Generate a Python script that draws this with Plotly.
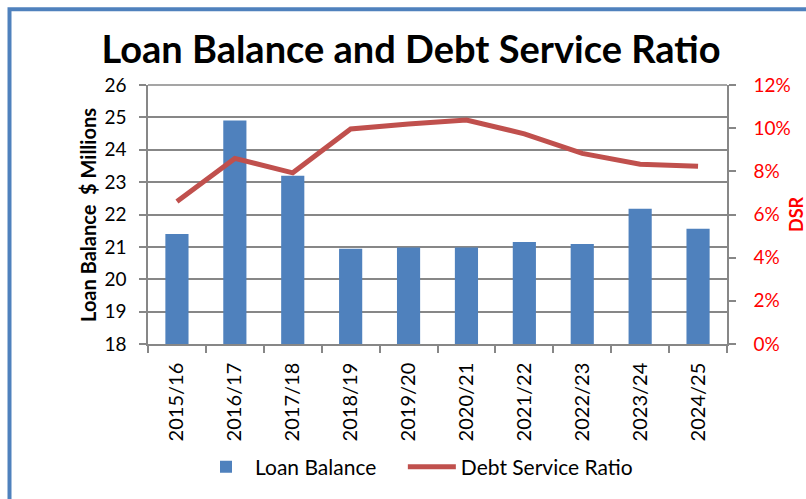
import plotly.graph_objects as go

categories = ["2015/16", "2016/17", "2017/18", "2018/19", "2019/20",
              "2020/21", "2021/22", "2022/23", "2023/24", "2024/25"]
loan_balance = [21.4, 24.9, 23.2, 20.94, 20.98, 20.98, 21.15, 21.09, 22.18, 21.56]
dsr = [0.066, 0.086, 0.0793, 0.0996, 0.1019, 0.1038, 0.0974, 0.0883, 0.0833, 0.0823]

W, H = 806, 499
L, R, T, B = 148, 727, 85, 350
font = "Lato"
grid = "#878787"
NB = "\u00a0"

fig = go.Figure()
fig.add_trace(go.Bar(x=categories, y=loan_balance, name="Loan Balance" + NB * 4,
                     marker=dict(color="#4F81BD", line=dict(width=0)), yaxis="y"))
fig.add_trace(go.Scatter(x=categories, y=dsr, name="Debt Service Ratio", mode="lines",
                         line=dict(color="#C0504D", width=5), yaxis="y2"))

def px_x(p):
    return (p - L) / (R - L)

def px_y(p):
    return (B - p) / (B - T)

fig.update_layout(
    width=W, height=H,
    margin=dict(l=L, r=W - R, t=T, b=H - B),
    paper_bgcolor="white", plot_bgcolor="white",
    font=dict(family=font, color="black", size=18),
    bargap=0.6,
    showlegend=True,
    title=dict(text="<b>Loan Balance and Debt Service Ratio</b>",
               font=dict(family=font, size=38, color="black"),
               x=411 / W, xref="container", xanchor="center",
               y=1 - 50 / H, yref="container", yanchor="middle"),
    legend=dict(orientation="h", x=px_x(197), y=px_y(476), xanchor="left", yanchor="middle",
                font=dict(family=font, size=21, color="black"),
                bgcolor="rgba(0,0,0,0)", itemwidth=48,
                traceorder="normal"),
    xaxis=dict(type="category", tickangle=-90, showline=True, linecolor=grid, linewidth=1.5,
               ticks="outside", tickson="boundaries", ticklen=7, tickcolor=grid, tickwidth=1.5,
               tickfont=dict(family=font, size=20, color="black"), showgrid=False,
               ticklabelstandoff=9, mirror=False),
    yaxis=dict(range=[18, 26], dtick=1, showgrid=True, gridcolor=grid, gridwidth=1.5,
               showline=True, linecolor=grid, linewidth=1.5, ticks="outside", ticklen=7,
               tickcolor=grid, tickwidth=1.5, zeroline=False, ticklabelstandoff=9,
               tickfont=dict(family=font, size=19, color="black")),
    yaxis2=dict(range=[0, 0.12], dtick=0.02, tickformat=".0%", overlaying="y", side="right",
                showgrid=False, showline=True, linecolor=grid, linewidth=1.5,
                ticks="outside", ticklen=7, tickcolor=grid, tickwidth=1.5, zeroline=False,
                ticklabelstandoff=14,
                tickfont=dict(family=font, size=19, color="#FF0000")),
    annotations=[
        dict(text="<b>Loan Balance  $ Millions</b>", textangle=-90, xref="paper", yref="paper",
             x=px_x(88), y=px_y(218), showarrow=False, xanchor="center", yanchor="middle",
             font=dict(family=font, size=20, color="black")),
        dict(text="<b>DSR</b>", textangle=-90, xref="paper", yref="paper",
             x=px_x(796), y=px_y(217), showarrow=False, xanchor="center", yanchor="middle",
             font=dict(family=font, size=18, color="#FF0000")),
    ],
    shapes=[
        dict(type="rect", xref="paper", yref="paper",
             x0=px_x(9.5), x1=px_x(830), y0=px_y(530), y1=px_y(7.5),
             line=dict(color="#4F81BD", width=4), fillcolor="rgba(0,0,0,0)", layer="above"),
        dict(type="line", xref="paper", yref="paper", x0=0, x1=1, y0=1, y1=1,
             line=dict(color=grid, width=1.5)),
    ],
)

fig.write_html("out.html")
